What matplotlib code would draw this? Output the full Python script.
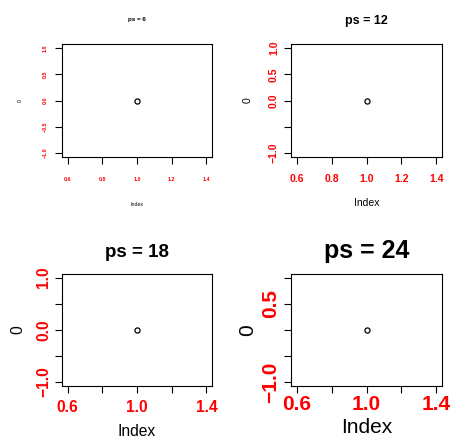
import matplotlib
matplotlib.use("Agg")
import matplotlib.pyplot as plt
from matplotlib.transforms import Bbox

plt.rcParams['font.family'] = ['Liberation Sans', 'DejaVu Sans']

# data: a single point plotted at each point size
x_vals = [1]
y_vals = [0]
point_sizes = [6, 12, 18, 24]
x_ticks = [0.6, 0.8, 1.0, 1.2, 1.4]
y_ticks = [-1.0, -0.5, 0.0, 0.5, 1.0]
# tick labels R kept after dropping the overlapping ones
x_labels_kept = [
    ["0.6", "0.8", "1.0", "1.2", "1.4"],
    ["0.6", "0.8", "1.0", "1.2", "1.4"],
    ["0.6", "1.0", "1.4"],
    ["0.6", "1.0", "1.4"],
]
y_labels_kept = [
    ["-1.0", "-0.5", "0.0", "0.5", "1.0"],
    ["-1.0", "0.0", "0.5", "1.0"],
    ["-1.0", "0.0", "1.0"],
    ["-1.0", "0.5"],
]

W, H = 452, 438

# layout in pixels: box (left, top, right, bottom), x/y tick pad (pt),
# title pad (px), top of "Index" (px), right edge of y label (px)
layout = [
    dict(box=(62, 44, 212, 157), xpad=9.4, ypad=5.0, tpad=23.3, idx=202.1, ylab=23.0),
    dict(box=(291, 44, 442, 157), xpad=7.0, ypad=3.6, tpad=19.7, idx=198.0, ylab=252.5),
    dict(box=(62, 273.5, 212, 386), xpad=5.0, ypad=2.6, tpad=16.3, idx=424.0, ylab=24.9),
    dict(box=(291, 273.5, 442, 386), xpad=1.4, ypad=2.6, tpad=15.7, idx=418.0, ylab=256.9),
]


def fmt(v):
    return "%.1f" % v


fig = plt.figure(figsize=(W / 100, H / 100), dpi=100)

for i, ps in enumerate(point_sizes):
    lay = layout[i]
    l, t, r, b = lay['box']
    ax = fig.add_axes([l / W, 1 - b / H, (r - l) / W, (b - t) / H])
    ax.plot(x_vals, y_vals, 'o', mfc='none', mec='black', ms=3.7, mew=0.9)
    ax.set_xlim(0.568, 1.432)
    ax.set_ylim(-1.08, 1.08)

    base = 0.626 * ps
    ax.set_xticks(x_ticks)
    ax.set_xticklabels([fmt(v) if fmt(v) in x_labels_kept[i] else '' for v in x_ticks],
                       fontsize=base, fontweight='bold', color='red')
    ax.set_yticks(y_ticks)
    ylabs = [fmt(v).replace('-', '\u2212') if fmt(v) in y_labels_kept[i] else '' for v in y_ticks]
    ax.set_yticklabels(ylabs, fontsize=base, fontweight='bold', color='red',
                       rotation=90, va='center')
    ax.tick_params(axis='x', direction='out', length=5, width=0.8, pad=lay['xpad'])
    ax.tick_params(axis='y', direction='out', length=5, width=0.8, pad=lay['ypad'])
    for s in ax.spines.values():
        s.set_linewidth(0.8)

    ax.set_title("ps = %d" % ps, fontsize=1.2 * base, fontweight='bold',
                 pad=lay['tpad'] * 0.72)
    ax.set_xlabel("Index", fontsize=base)
    ax.xaxis.set_label_coords(0.5, (b - lay['idx']) / (b - t))
    ax.set_ylabel("0", fontsize=base)
    ax.yaxis.set_label_coords((lay['ylab'] - l) / (r - l), 0.5)

    if i == 3:
        # the "0" label is cut off at the top in the original
        ax.yaxis.label.set_clip_on(True)
        ax.yaxis.label.set_clip_box(Bbox([[0, 0], [W, H - 326]]))

fig.savefig('out.png', dpi=100)
